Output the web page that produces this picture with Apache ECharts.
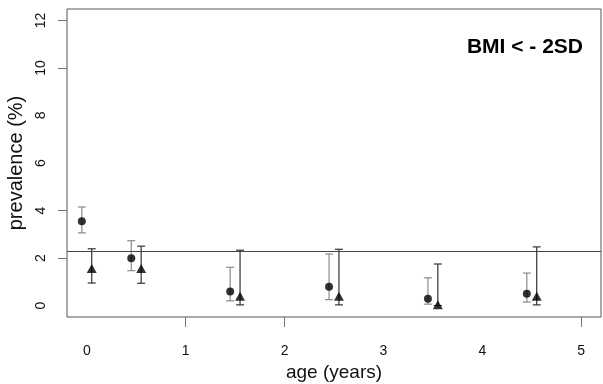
<!DOCTYPE html>
<html>
<head>
<meta charset="utf-8">
<script src="https://cdn.jsdelivr.net/npm/echarts@6/dist/echarts.min.js"></script>
<style>html,body{margin:0;padding:0;background:#fff}#c{width:603px;height:384px}</style>
</head>
<body>
<div id="c"></div>
<script>
// ---- data ----
const xTickLabels = [0, 1, 2, 3, 4, 5];
const yTickLabels = [0, 2, 4, 6, 8, 10, 12];
const xTicksShown = [1, 2, 5];
const yTicksShown = [2, 4, 10, 12];
const refLine = 2.27;

const circleAge  = [-0.05, 0.45, 1.45, 2.45, 3.45, 4.45];
const circleVal  = [3.55, 1.99, 0.59, 0.79, 0.29, 0.50];
const circleLow  = [3.06, 1.47, 0.20, 0.25, 0.06, 0.15];
const circleHigh = [4.15, 2.73, 1.61, 2.17, 1.17, 1.37];

const triAge  = [0.05, 0.55, 1.55, 2.55, 3.55, 4.55];
const triVal  = [1.56, 1.56, 0.39, 0.39, 0.04, 0.39];
const triLow  = [0.95, 0.94, 0.03, 0.03, 0.00, 0.03];
const triHigh = [2.39, 2.50, 2.33, 2.37, 1.75, 2.47];

const FONT = 'Liberation Sans, Arial, sans-serif';

function errRender(color) {
  return function (params, api) {
    const x = api.value(0), lo = api.value(1), hi = api.value(2);
    const a = api.coord([x, lo]), b = api.coord([x, hi]);
    const hw = 4;
    const st = { stroke: color, lineWidth: 1.2 };
    return {
      type: 'group',
      children: [
        { type: 'line', shape: { x1: a[0], y1: a[1], x2: b[0], y2: b[1] }, style: st },
        { type: 'line', shape: { x1: a[0] - hw, y1: a[1], x2: a[0] + hw, y2: a[1] }, style: st },
        { type: 'line', shape: { x1: b[0] - hw, y1: b[1], x2: b[0] + hw, y2: b[1] }, style: st }
      ]
    };
  };
}

const chart = echarts.init(document.getElementById('c'), null, { renderer: 'canvas' });
chart.setOption({
  animation: false,
  backgroundColor: '#fff',
  title: {
    text: 'BMI < - 2SD',
    right: 15, top: 32,
    textStyle: { fontFamily: FONT, fontWeight: 'bold', fontSize: 21, color: '#000' }
  },
  grid: {
    left: 67, right: 2, top: 9, bottom: 67,
    outerBoundsMode: 'none', containLabel: false,
    show: true, borderColor: '#555', borderWidth: 1, backgroundColor: 'transparent'
  },
  xAxis: {
    type: 'value', min: -0.2, max: 5.2,
    name: 'age (years)', nameLocation: 'middle', nameGap: 45,
    nameTextStyle: { fontFamily: FONT, fontSize: 19, color: '#111' },
    axisLine: { show: false, onZero: false },
    splitLine: { show: false },
    axisTick: { show: true, length: 10, customValues: xTicksShown, lineStyle: { color: '#777' } },
    axisLabel: { customValues: xTickLabels, margin: 27, fontFamily: FONT, fontSize: 14, color: '#111' }
  },
  yAxis: {
    type: 'value', min: -0.48, max: 12.48,
    name: 'prevalence (%)', nameLocation: 'middle', nameGap: 37,
    nameTextStyle: { fontFamily: FONT, fontSize: 20, color: '#111' },
    axisLine: { show: false, onZero: false },
    splitLine: { show: false },
    axisTick: { show: true, length: 9, customValues: yTicksShown, lineStyle: { color: '#777' } },
    axisLabel: { customValues: yTickLabels, rotate: 90, margin: 19, fontFamily: FONT, fontSize: 14, color: '#111' }
  },
  series: [
    {
      type: 'custom',
      renderItem: errRender('#8a8a8a'),
      data: circleAge.map((x, i) => [x, circleLow[i], circleHigh[i]]),
      silent: true, z: 2
    },
    {
      type: 'custom',
      renderItem: errRender('#333'),
      data: triAge.map((x, i) => [x, triLow[i], triHigh[i]]),
      silent: true, z: 2
    },
    {
      type: 'scatter',
      symbol: 'circle', symbolSize: 8,
      itemStyle: { color: '#000' },
      data: circleAge.map((x, i) => [x, circleVal[i]]),
      z: 3,
      markLine: {
        silent: true, symbol: 'none',
        label: { show: false },
        lineStyle: { color: '#444', type: 'solid', width: 1 },
        data: [{ yAxis: refLine }]
      }
    },
    {
      type: 'scatter',
      symbol: 'triangle', symbolSize: [10, 9],
      itemStyle: { color: '#000' },
      data: triAge.map((x, i) => [x, triVal[i]]),
      z: 3
    }
  ]
});
</script>
</body>
</html>
